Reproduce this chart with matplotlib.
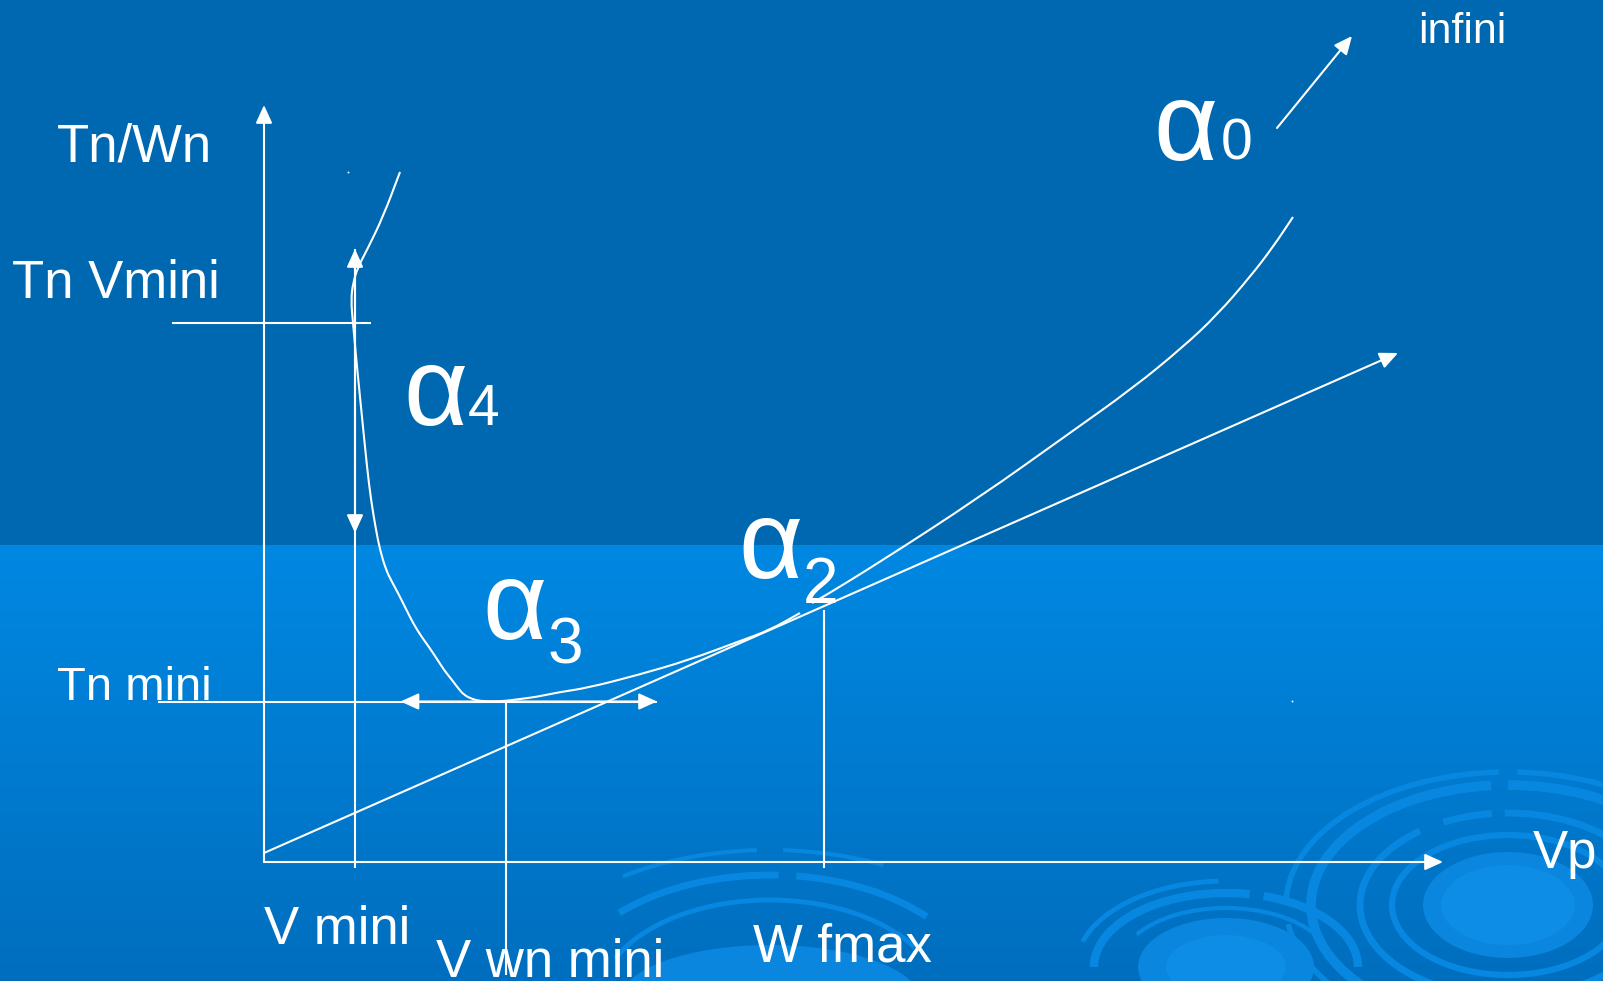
import numpy as np
import matplotlib
matplotlib.use("Agg")
import matplotlib.pyplot as plt
from matplotlib.patches import Arc, Ellipse, PathPatch
from matplotlib.path import Path

plt.rcParams['font.family'] = ['Liberation Sans', 'DejaVu Sans']

# Diagram units: origin at the axis corner, x along Vp, y along Tn/Wn
# Tn/Wn versus Vp curve, descending branch down to the minimum and on to alpha2
curve_low_x = [136, 119, 103, 94, 89, 87, 89, 93, 98, 103, 107, 112, 116, 122, 128,
               134, 141, 149, 157, 165, 173, 180, 188, 194, 200, 208, 216, 228, 241,
               256, 272, 296, 323, 374, 425, 476, 506, 536]
curve_low_y = [690, 645, 612, 595, 579, 562, 539, 495, 445, 395, 362, 332, 312, 292, 280,
               269, 255, 239, 226, 215, 203, 192, 182, 174, 167, 163, 161, 160.5, 161,
               163, 165, 170, 174, 187, 202, 221, 232, 249]
# rising branch towards alpha0
curve_high_x = [548, 559, 616, 716, 803, 869, 919, 953, 986, 1009, 1029]
curve_high_y = [259, 265, 300, 365, 427, 474, 515, 547, 585, 615, 645]

# tangent through the origin
tangent_x = [0, 1134]
tangent_y = [9, 509]

# axes extents
vp_axis_end = 1179
tw_axis_end = 757

# reference levels and speeds
v_mini = 91
v_wn_mini = 242
w_fmax = 560
tn_vmini = 539
tn_mini = 160.5


def smooth_path(xs, ys):
    """Quadratic bezier path through the midpoints, using the points as controls."""
    pts = np.column_stack([xs, ys]).astype(float)
    verts = [pts[0], (pts[0] + pts[1]) / 2]
    codes = [Path.MOVETO, Path.LINETO]
    for i in range(1, len(pts) - 1):
        verts += [pts[i], (pts[i] + pts[i + 1]) / 2]
        codes += [Path.CURVE3, Path.CURVE3]
    verts.append(pts[-1])
    codes.append(Path.LINETO)
    return Path(verts, codes)


fig = plt.figure(figsize=(16.03, 9.81), dpi=100)
ax = fig.add_axes([0, 0, 1, 1])
ax.set_xlim(-264, 1339)
ax.set_ylim(-119, 862)
ax.axis('off')

# slide background: dark band on top, lighter gradient below
rows = np.zeros((981, 1, 3))
top = np.array([0, 104, 176]) / 255
bot_a = np.array([0, 136, 226]) / 255
bot_b = np.array([0, 110, 190]) / 255
split = 545
rows[:split, 0] = top
t = np.linspace(0, 1, 981 - split)[:, None]
rows[split:, 0] = bot_a * (1 - t) + bot_b * t
ax.imshow(rows, extent=(-264, 1339, -119, 862), aspect='auto', zorder=0)

# decorative rings along the bottom
ring_col = '#0887e0'
fill_a = '#0a86de'
fill_b = '#0d8de6'
for (cx, cy), w, h, col in [((1244, -43), 170, 106, fill_a),
                            ((1244, -43), 134, 80, fill_b),
                            ((962, -105), 176, 98, fill_a),
                            ((962, -105), 120, 64, fill_b),
                            ((506, -138), 300, 110, fill_a)]:
    ax.add_patch(Ellipse((cx, cy), w, h, color=col, lw=0, zorder=1))

rings = [
    ((1244, -43), 232, 140, 4.5, [(0, 360)]),
    ((1244, -43), 296, 184, 5, [(25, 92), (100, 128), (140, 360)]),
    ((1244, -43), 394, 240, 7, [(0, 22), (30, 90), (98, 360)]),
    ((1244, -43), 444, 266, 4, [(45, 86), (94, 178), (185, 230)]),
    ((962, -105), 264, 148, 6, [(0, 62), (72, 180)]),
    ((962, -105), 300, 172, 3.5, [(95, 170)]),
    ((962, -105), 214, 118, 3, [(20, 160)]),
    ((506, -138), 420, 250, 5, [(28, 78), (86, 150)]),
    ((506, -138), 340, 200, 3.5, [(20, 165)]),
    ((506, -138), 520, 300, 3, [(50, 85), (95, 140)]),
]
for center, w, h, lw, spans in rings:
    for t1, t2 in spans:
        ax.add_patch(Arc(center, w, h, theta1=t1, theta2=t2, color=ring_col,
                         lw=lw, zorder=1))

line_kw = dict(color='white', lw=1.5, zorder=3, solid_capstyle='butt')
head = '-|>,head_length=1.1,head_width=0.5'
dhead = '<|-|>,head_length=1.1,head_width=0.5'


def arrow(x0, y0, x1, y1, style=head):
    ax.annotate('', xy=(x1, y1), xytext=(x0, y0),
                arrowprops=dict(arrowstyle=style, color='white', lw=1.5,
                                shrinkA=0, shrinkB=0), zorder=4)


# axes
arrow(0, 0, 0, tw_axis_end)
arrow(0, 0, vp_axis_end, 0)

# curves and tangent
for xs, ys in [(curve_low_x, curve_low_y), (curve_high_x, curve_high_y)]:
    ax.add_patch(PathPatch(smooth_path(xs, ys), fill=False, ec='white',
                           lw=1.5, zorder=3))
arrow(tangent_x[0], tangent_y[0], tangent_x[1], tangent_y[1])

# reference lines
ax.plot([-92, 107], [tn_vmini, tn_vmini], **line_kw)
ax.plot([v_mini, v_mini], [-6, 613], **line_kw)
arrow(v_mini, 329, v_mini, 613, dhead)
ax.plot([-106, 393], [tn_mini, tn_mini], **line_kw)
arrow(136.5, tn_mini, 393, tn_mini, dhead)
ax.plot([v_wn_mini, v_wn_mini], [-113, tn_mini], **line_kw)
ax.plot([w_fmax, w_fmax], [-6, 252], **line_kw)

# arrow towards infinity
arrow(1013, 734, 1088, 826)

ax.plot([84, 1028], [690, 161], 's', color='white', ms=1.2, mew=0, zorder=3)

# labels
txt = dict(color='white', fontsize=38, ha='left', va='baseline', zorder=5)
ax.text(-207, 700.5, 'Tn/Wn', **txt)
ax.text(-252, 564.5, 'Tn Vmini', **txt)
ax.text(-207, 162, 'Tn mini', **dict(txt, fontsize=34))
ax.text(0, -82, 'V mini', **txt)
ax.text(172, -115, 'V wn mini', **txt)
ax.text(489, -100, 'W fmax', **txt)
ax.text(1269, -6, 'Vp', **txt)
ax.text(1154, 819, 'infini', color='white', fontsize=31, ha='left',
        va='baseline', zorder=5)

alpha_kw = dict(color='white', fontsize=80, ha='left', va='baseline', zorder=5)
sub_kw = dict(color='white', ha='left', va='baseline', zorder=5)
ax.text(889, 702, 'α', **alpha_kw)
ax.text(957, 702, '0', fontsize=41, **sub_kw)
ax.text(139, 437, 'α', **alpha_kw)
ax.text(204, 437, '4', fontsize=41, **sub_kw)
ax.text(218, 223, 'α', **alpha_kw)
ax.text(284, 198, '3', fontsize=46, **sub_kw)
ax.text(474, 284, 'α', **alpha_kw)
ax.text(539, 259, '2', fontsize=46, **sub_kw)

fig.savefig('out.png', dpi=100)
